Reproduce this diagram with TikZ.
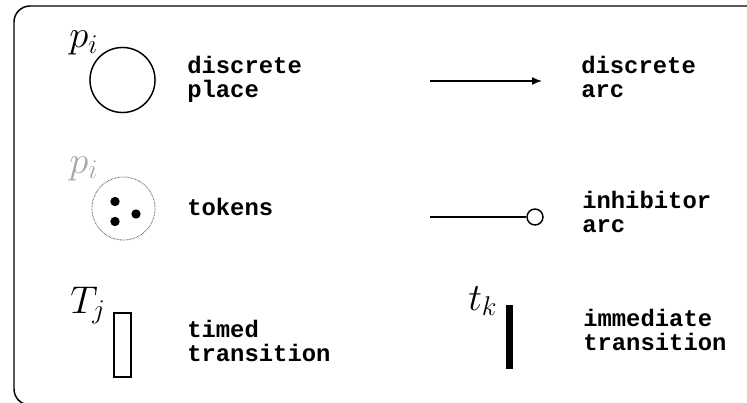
\RequirePackage{fix-cm}
\documentclass[tikz,border=0pt]{standalone}
\usepackage{fontspec}
\setmonofont{Liberation Mono}
\usepackage{tikz}
\usetikzlibrary{arrows.meta}
\definecolor{pnblack}{HTML}{000000}
\definecolor{pngrey}{HTML}{A8A8A8}
\definecolor{pndot}{HTML}{666666}
\tikzset{
  legtxt/.style={anchor=base west,align=left,inner sep=0pt,font=\ttfamily\bfseries\fontsize{17.9}{18}\selectfont},
  symlbl/.style={anchor=base west,inner sep=0pt,font=\fontsize{29}{29}\selectfont},
  place/.style={circle,draw=pnblack,line width=1.1pt,minimum size=48.8pt,inner sep=0pt},
  dotplace/.style={circle,draw=pndot,dash pattern=on 0.5pt off 0.6pt,line width=0.7pt,minimum size=47.3pt,inner sep=0pt},
  token/.style={circle,fill=pnblack,minimum size=7pt,inner sep=0pt},
  ttrans/.style={rectangle,draw=pnblack,line width=0.8pt,minimum width=12.75pt,minimum height=48pt,inner sep=0pt},
  itrans/.style={rectangle,fill=pnblack,minimum width=5.25pt,minimum height=48pt,inner sep=0pt},
  inhtip/.style={circle,draw=pnblack,line width=1.1pt,fill=white,minimum size=12pt,inner sep=0pt},
  arc/.style={-{Latex[length=7.5pt,width=6pt]},draw=pnblack,line width=1.1pt},
  inh/.style={draw=pnblack,line width=1.1pt},
  frame/.style={draw=pnblack,line width=1.1pt,rounded corners=12pt},
}

\begin{document}
\begin{tikzpicture}[x=0.75pt,y=-0.75pt]
  \useasboundingbox (0,0) rectangle (747,403);
  \clip (0,0) rectangle (747,403);
  \draw[frame] (14,6) rectangle (780,405);

  % places
  \node[place] (pi) at (122.5,80) {};
  \node[symlbl] (pilbl) at (69,48) {$p_i$};
  \node[legtxt] (pitxt) at (187,98) {discrete\\place};

  \node[dotplace] (pk) at (123.5,208.5) {};
  \node[symlbl,text=pngrey] (pklbl) at (69,173) {$p_i$};
  \node[token] (tok1) at (115,201.5) {};
  \node[token] (tok2) at (115,221.5) {};
  \node[token] (tok3) at (136,214) {};
  \node[legtxt] (toktxt) at (187,215) {tokens};

  % transitions
  \node[ttrans] (tj) at (122.5,345) {};
  \node[symlbl] (tjlbl) at (70,313) {$T_j$};
  \node[legtxt] (tjtxt) at (187,361.5) {timed\\transition};

  \node[itrans] (tk) at (509.5,337) {};
  \node[symlbl] (tklbl) at (468,310) {$t_k$};
  \node[legtxt] (tktxt) at (583,350) {immediate\\transition};

  % arcs
  \coordinate (arcA) at (430,81);
  \coordinate (arcB) at (542,81);
  \draw[arc] (arcA)--(arcB);
  \node[legtxt] (arctxt) at (581,98) {discrete\\arc};

  \coordinate (inhA) at (430,217);
  \node[inhtip] (inhB) at (535,217) {};
  \draw[inh] (inhA)--(inhB);
  \node[legtxt] (inhtxt) at (582,233) {inhibitor\\arc};
\end{tikzpicture}
\end{document}
